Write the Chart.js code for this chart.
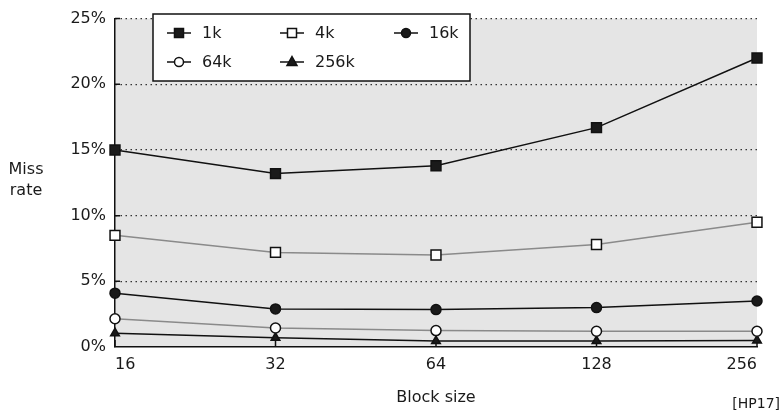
<!DOCTYPE html>
<html>
<head>
<meta charset="utf-8">
<script src="https://cdn.jsdelivr.net/npm/chart.js@4.4.0/dist/chart.umd.min.js"></script>
<style>
  html, body { margin: 0; padding: 0; background: #fff; }
  #wrap { width: 784px; height: 412px; }
</style>
</head>
<body>
<div id="wrap"><canvas id="missChart" width="784" height="412"></canvas></div>
<script>
// block sizes (x axis)
const blockSizes = ['16', '32', '64', '128', '256'];

// miss rate in % per cache size
const miss1k = [15.0, 13.2, 13.8, 16.7, 22.0];
const miss4k = [8.5, 7.2, 7.0, 7.8, 9.5];
const miss16k = [4.1, 2.9, 2.85, 3.0, 3.5];
const miss64k = [2.15, 1.45, 1.25, 1.2, 1.2];
const miss256k = [1.05, 0.7, 0.45, 0.45, 0.5];

const seriesNames = ['1k', '4k', '16k', '64k', '256k'];
const yTicks = [0, 5, 10, 15, 20, 25];

const txt = '#1a1a1a';
const font16 = { family: 'DejaVu Sans', size: 16 };

function makeSet(label, values, line, style, fill, radius) {
    return {
        label: label,
        data: values,
        borderColor: line,
        borderWidth: 1.5,
        pointStyle: style,
        pointRadius: radius,
        pointHoverRadius: radius,
        pointBackgroundColor: fill,
        pointBorderColor: '#111',
        pointBorderWidth: 1.5,
        tension: 0,
        fill: false
    };
}

const datasets = [
    makeSet(seriesNames[0], miss1k, '#111', 'rect', '#1a1a1a', 7),
    makeSet(seriesNames[1], miss4k, '#8a8a8a', 'rect', '#fff', 7),
    makeSet(seriesNames[2], miss16k, '#111', 'circle', '#1a1a1a', 5),
    makeSet(seriesNames[3], miss64k, '#8a8a8a', 'circle', '#fff', 5),
    makeSet(seriesNames[4], miss256k, '#111', 'triangle', '#1a1a1a', 5)
];

// gray plot area
const plotBg = {
    id: 'plotBg',
    beforeDraw(chart) {
        const a = chart.chartArea, ctx = chart.ctx;
        ctx.save();
        ctx.fillStyle = '#e5e5e5';
        ctx.fillRect(a.left, a.top, a.right - a.left, a.bottom - a.top);
        ctx.restore();
    }
};

// small tick marks pointing into the plot
const innerTicks = {
    id: 'innerTicks',
    beforeDatasetsDraw(chart) {
        const ctx = chart.ctx, a = chart.chartArea;
        const xs = chart.scales.x, ys = chart.scales.y;
        ctx.save();
        ctx.strokeStyle = '#111';
        ctx.lineWidth = 1.5;
        ctx.beginPath();
        for (let i = 0; i < blockSizes.length; i++) {
            const x = xs.getPixelForValue(i);
            ctx.moveTo(x, a.bottom);
            ctx.lineTo(x, a.bottom - 7);
        }
        yTicks.forEach(function(v) {
            if (v === 0) return;
            const y = ys.getPixelForValue(v);
            ctx.moveTo(a.left, y);
            ctx.lineTo(a.left + 5, y);
        });
        ctx.stroke();
        ctx.restore();
    }
};

function drawMarker(ctx, style, x, y, r, fill) {
    ctx.beginPath();
    if (style === 'rect') {
        ctx.rect(x - r, y - r, 2 * r, 2 * r);
    } else if (style === 'circle') {
        ctx.arc(x, y, r, 0, Math.PI * 2);
    } else {
        ctx.moveTo(x, y - r * 1.1);
        ctx.lineTo(x + r, y + r * 0.7);
        ctx.lineTo(x - r, y + r * 0.7);
        ctx.closePath();
    }
    ctx.fillStyle = fill;
    ctx.fill();
    ctx.strokeStyle = '#111';
    ctx.lineWidth = 1.5;
    ctx.stroke();
}

// legend box inside the plot + extra texts
const boxLegend = {
    id: 'boxLegend',
    afterDraw(chart) {
        const ctx = chart.ctx;
        ctx.save();
        ctx.fillStyle = '#fff';
        ctx.fillRect(153, 14, 317, 67);
        ctx.strokeStyle = '#111';
        ctx.lineWidth = 1.5;
        ctx.strokeRect(153, 14, 317, 67);

        const cols = [167, 280, 394];
        const rows = [33, 62];
        const sizes = { rect: 4.5, circle: 4.5, triangle: 5 };
        ctx.font = '16px "DejaVu Sans"';
        ctx.textBaseline = 'middle';
        datasets.forEach(function(ds, i) {
            const x = cols[i % 3], y = rows[Math.floor(i / 3)];
            ctx.strokeStyle = '#111';
            ctx.lineWidth = 1.5;
            ctx.beginPath();
            ctx.moveTo(x, y);
            ctx.lineTo(x + 24, y);
            ctx.stroke();
            drawMarker(ctx, ds.pointStyle, x + 12, y, sizes[ds.pointStyle], ds.pointBackgroundColor);
            ctx.fillStyle = txt;
            ctx.textAlign = 'left';
            ctx.fillText(ds.label, x + 35, y + 1);
        });

        // y axis title, two lines
        ctx.textAlign = 'center';
        ctx.fillStyle = txt;
        ctx.fillText('Miss', 26, 170);
        ctx.fillText('rate', 26, 191);

        // source reference
        ctx.font = '14px "DejaVu Sans"';
        ctx.textAlign = 'right';
        ctx.textBaseline = 'alphabetic';
        ctx.fillText('[HP17]', 780, 408);
        ctx.restore();
    }
};

const missChart = new Chart(document.getElementById('missChart'), {
    type: 'line',
    data: { labels: blockSizes, datasets: datasets },
    options: {
        responsive: false,
        animation: false,
        events: [],
        layout: { padding: { left: 0, right: 27, top: 14, bottom: 0 } },
        plugins: { legend: { display: false }, tooltip: { enabled: false } },
        scales: {
            x: {
                type: 'category',
                offset: false,
                grid: { display: false, drawTicks: false },
                border: { color: '#111', width: 1.5 },
                ticks: { align: 'inner', padding: 8, color: txt, font: font16, maxRotation: 0 },
                title: { display: true, text: 'Block size', color: txt, font: font16, padding: { top: 0, bottom: 5 } },
                afterFit(scale) { scale.height = 65; }
            },
            y: {
                min: 0,
                max: 25,
                afterBuildTicks(scale) {
                    scale.ticks = yTicks.map(function(v) { return { value: v }; });
                },
                grid: {
                    drawTicks: false,
                    color: function(c) { return c.tick && c.tick.value === 0 ? 'rgba(0,0,0,0)' : '#333'; },
                    lineWidth: 1.3
                },
                // in v4 the dash here applies to the grid lines
                border: { color: '#111', width: 1.5, dash: [1.5, 3.5] },
                ticks: {
                    padding: 9,
                    color: txt,
                    font: font16,
                    callback: function(v) { return v + '%'; }
                },
                afterFit(scale) { scale.width = 115; }
            }
        }
    },
    plugins: [plotBg, innerTicks, boxLegend]
});
</script>
</body>
</html>
